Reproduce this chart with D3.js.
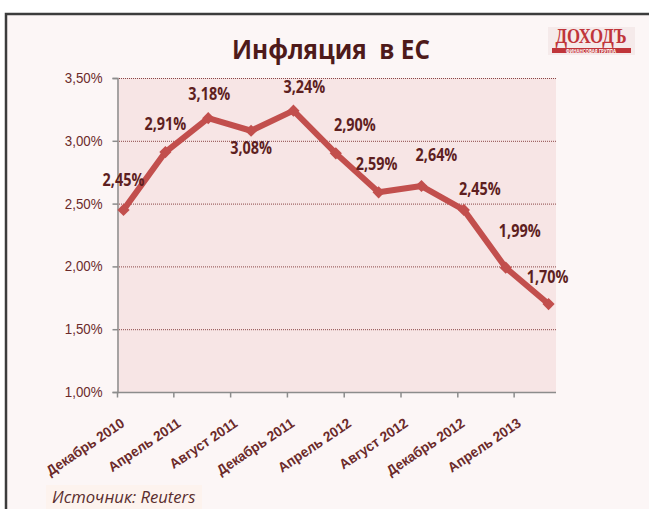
<!DOCTYPE html>
<html>
<head>
<meta charset="utf-8">
<script src="https://cdn.jsdelivr.net/npm/d3@7"></script>
<style>
  html, body { margin: 0; padding: 0; background: #fff; }
  svg { display: block; font-family: "Open Sans", "Noto Sans", sans-serif; }
</style>
</head>
<body>
<svg id="chart" width="649" height="509"></svg>
<script>
// Data
const dates = ["2010-12-15", "2011-03-15", "2011-06-15", "2011-09-15", "2011-12-15",
  "2012-03-15", "2012-06-15", "2012-09-15", "2012-12-15", "2013-03-15", "2013-06-15"];
const values = [2.45, 2.91, 3.18, 3.08, 3.24, 2.90, 2.59, 2.64, 2.45, 1.99, 1.70];
const tickDates = ["2010-12-01", "2011-04-01", "2011-08-01", "2011-12-01",
  "2012-04-01", "2012-08-01", "2012-12-01", "2013-04-01"];
const tickLabels = ["Декабрь 2010", "Апрель 2011", "Август 2011", "Декабрь 2011",
  "Апрель 2012", "Август 2012", "Декабрь 2012", "Апрель 2013"];
const yTicks = [1.0, 1.5, 2.0, 2.5, 3.0, 3.5];

// Hand-placed label offsets (like the original, labels were nudged one by one)
const labelOffsets = [[0, -24], [0, -22], [1, -18], [0, 23], [11, -18], [19, -22],
  [-2, -22], [15, -25], [16, -15], [14, -31], [-1, -21]];

const parse = d3.utcParse("%Y-%m-%d");
const data = dates.map((d, i) => ({ date: parse(d), value: values[i] }));

const svg = d3.select("#chart");
const plot = { left: 117, right: 556, top: 78, bottom: 392 };

const x = d3.scaleUtc()
  .domain([parse("2010-12-01"), parse("2013-07-01")])
  .range([plot.left, plot.right]);
const y = d3.scaleLinear().domain([1, 3.5]).range([plot.bottom, plot.top]);

const fmt = v => d3.format(".2f")(v).replace(".", ",") + "%";

// squeeze text horizontally a bit, the original font is narrower
function squeeze(sel, k) {
  sel.each(function () {
    const len = this.getComputedTextLength();
    d3.select(this).attr("textLength", len * k).attr("lengthAdjust", "spacingAndGlyphs");
  });
}

// Chart frame
svg.append("rect")
  .attr("x", 6).attr("y", 14).attr("width", 700).attr("height", 600)
  .attr("fill", "#fcf6f6").attr("stroke", "#3c3c3c").attr("stroke-width", 2.5);

// Plot area
svg.append("rect")
  .attr("x", plot.left).attr("y", plot.top)
  .attr("width", plot.right - plot.left).attr("height", plot.bottom - plot.top)
  .attr("fill", "#f7e5e5");

// Gridlines
svg.append("g")
  .selectAll("line")
  .data(yTicks.filter(t => t > 1))
  .join("line")
  .attr("x1", plot.left).attr("x2", plot.right)
  .attr("y1", d => y(d) + 0.5).attr("y2", d => y(d) + 0.5)
  .attr("stroke", "#8a4646").attr("stroke-width", 1)
  .attr("stroke-dasharray", "1,1");

// Y axis
const yAxis = svg.append("g")
  .attr("transform", `translate(${plot.left + 0.5},0)`)
  .call(d3.axisLeft(y).tickValues(yTicks).tickSize(5).tickPadding(10).tickFormat(fmt));
yAxis.select(".domain").attr("stroke", "#8c8c8c").attr("stroke-width", 1.5);
yAxis.selectAll(".tick line").attr("stroke", "#8c8c8c").attr("stroke-width", 1.5);
yAxis.selectAll(".tick text")
  .attr("fill", "#6b2a2a").attr("font-size", 14)
  .call(squeeze, 0.95);

// X axis
const xAxis = svg.append("g")
  .attr("transform", `translate(0,${plot.bottom + 0.5})`)
  .call(d3.axisBottom(x).tickValues(tickDates.map(parse)).tickSize(5).tickSizeOuter(0)
    .tickFormat((d, i) => tickLabels[i]));
xAxis.select(".domain").attr("stroke", "#8c8c8c").attr("stroke-width", 1.5)
  .attr("d", `M${plot.left},0H${plot.right}`);
xAxis.selectAll(".tick text")
  .attr("fill", "#6b2a2a").attr("font-size", 14).attr("font-weight", "bold")
  .attr("text-anchor", "end")
  .attr("transform", "translate(8,33) rotate(-34)")
  .attr("y", 0).attr("dy", 0)
  .call(squeeze, 0.97);
xAxis.selectAll(".tick line").attr("stroke", "#8c8c8c").attr("stroke-width", 1.5);

// Line
const line = d3.line().x(d => x(d.date)).y(d => y(d.value));
svg.append("path")
  .datum(data)
  .attr("d", line)
  .attr("fill", "none")
  .attr("stroke", "#c24f4d")
  .attr("stroke-width", 6)
  .attr("stroke-linejoin", "round");

// Markers
svg.append("g")
  .selectAll("path")
  .data(data)
  .join("path")
  .attr("d", d3.symbol().type(d3.symbolDiamond2).size(95))
  .attr("transform", d => `translate(${x(d.date)},${y(d.value)})`)
  .attr("fill", "#c24f4d");

// Value labels
svg.append("g")
  .selectAll("text")
  .data(data)
  .join("text")
  .attr("x", (d, i) => x(d.date) + labelOffsets[i][0])
  .attr("y", (d, i) => y(d.value) + labelOffsets[i][1])
  .attr("text-anchor", "middle")
  .attr("font-size", 18).attr("font-weight", "bold")
  .attr("fill", "#5e1f1f")
  .text(d => fmt(d.value))
  .call(squeeze, 0.8);

// Title
svg.append("text")
  .attr("x", 331).attr("y", 59)
  .attr("text-anchor", "middle")
  .attr("font-size", 27).attr("font-weight", "bold")
  .attr("fill", "#4e1a1a")
  .attr("xml:space", "preserve")
  .text("Инфляция  в ЕС")
  .call(squeeze, 0.9);

// Logo
const logo = svg.append("g");
logo.append("rect").attr("x", 548).attr("y", 27).attr("width", 87).attr("height", 28).attr("fill", "#f5eaea");
logo.append("text")
  .attr("x", 591).attr("y", 43).attr("text-anchor", "middle")
  .attr("font-family", "'Liberation Serif', serif").attr("font-weight", "bold")
  .attr("font-size", 20).attr("fill", "#c0353a")
  .text("ДОХОДЪ")
  .call(squeeze, 0.84);
logo.append("rect").attr("x", 552).attr("y", 48).attr("width", 79).attr("height", 5).attr("fill", "#c0353a");
logo.append("text")
  .attr("x", 591).attr("y", 52.6).attr("text-anchor", "middle")
  .attr("font-size", 4.3).attr("font-weight", "bold").attr("fill", "#fff")
  .text("ФИНАНСОВАЯ ГРУППА");

// Source
svg.append("rect").attr("x", 46).attr("y", 485).attr("width", 156).attr("height", 24).attr("fill", "#fdf3ee");
svg.append("text")
  .attr("x", 52).attr("y", 503)
  .attr("font-size", 17).attr("font-style", "italic")
  .attr("fill", "#5a2e2e")
  .text("Источник: Reuters")
  .call(squeeze, 0.98);
</script>
</body>
</html>
